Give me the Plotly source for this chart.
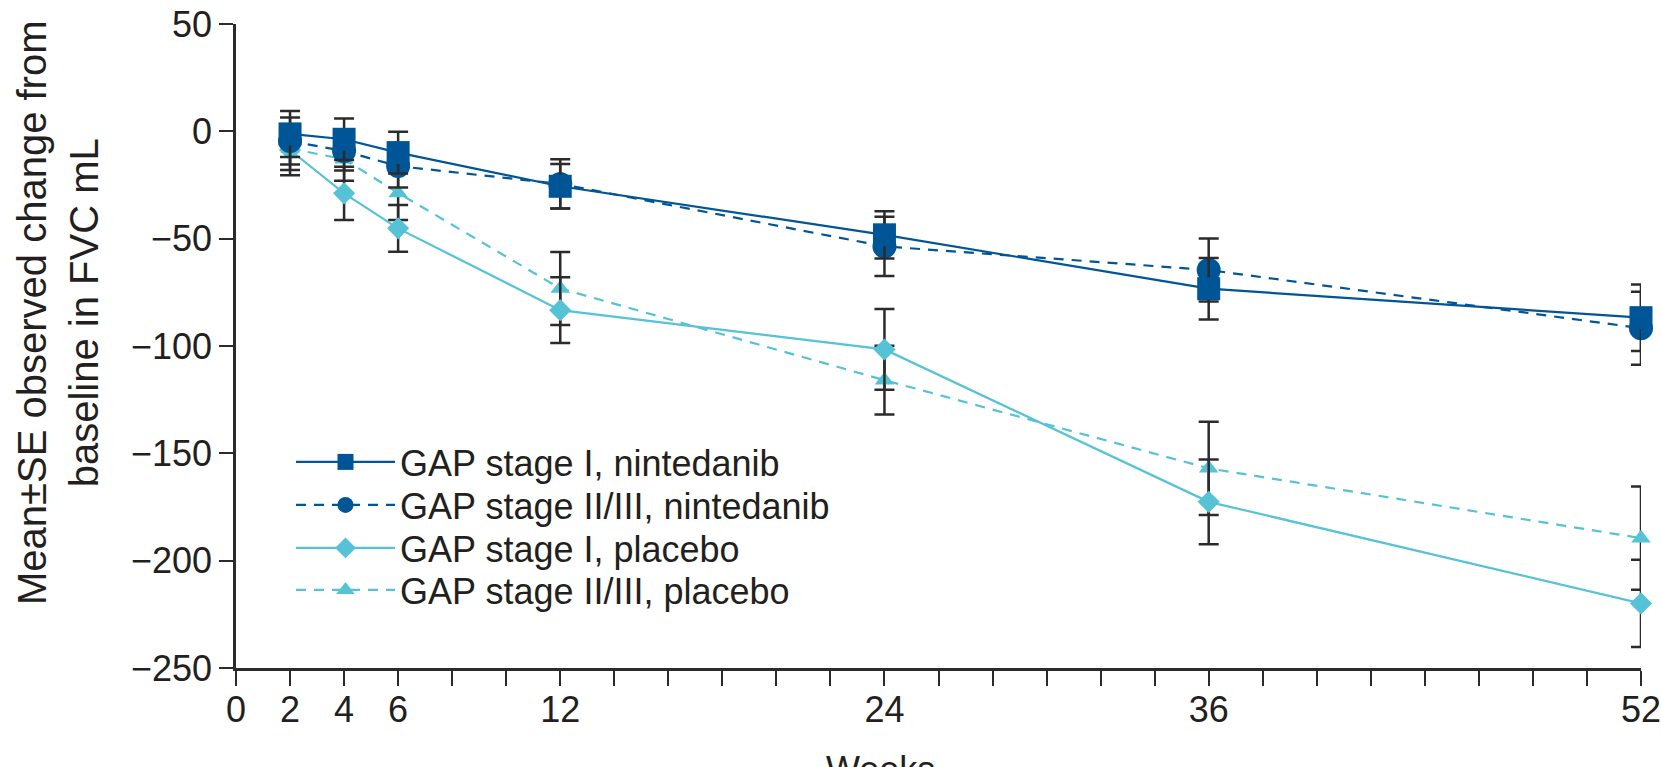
import plotly.graph_objects as go

weeks = [2, 4, 6, 12, 24, 36, 52]

names = ["GAP stage I, nintedanib", "GAP stage II/III, nintedanib",
         "GAP stage I, placebo", "GAP stage II/III, placebo"]

nin_stage1 = [-1.2, -3.7, -9.9, -25.6, -48.2, -73.3, -86.8]
nin_stage1_se = [10.7, 9.7, 9.7, 10.4, 11.0, 14.3, 15.5]

nin_stage23 = [-4.5, -9.2, -16.2, -24.5, -53.6, -64.6, -91.7]
nin_stage23_se = [11.0, 9.1, 10.0, 11.5, 13.8, 14.7, 17.0]

pla_stage1 = [-8.7, -28.9, -45.2, -83.3, -101.6, -172.6, -219.9]
pla_stage1_se = [11.7, 12.4, 10.9, 15.3, 18.8, 19.7, 20.3]

pla_stage23 = [-8.0, -13.0, -28.7, -73.2, -115.9, -157.0, -189.5]
pla_stage23_se = [10.0, 10.0, 12.6, 17.0, 16.0, 21.7, 24.0]

x_tickvals = list(range(0, 53, 2))
x_labels = {0: "0", 2: "2", 4: "4", 6: "6", 12: "12", 24: "24", 36: "36", 52: "52"}
x_ticktext = [x_labels.get(v, "") for v in x_tickvals]
y_tickvals = [50, 0, -50, -100, -150, -200, -250]
y_ticktext = ["50", "0", "−50", "−100", "−150", "−200", "−250"]

DARK = "#005596"
LIGHT = "#55C3D5"
BAR = "#2b2b2b"
TXT = "#231f20"
FONT = "Liberation Sans, Arial, sans-serif"

# plot area in pixels (used only for paper-coordinate placement of texts/legends)
L, R, T, B = 236, 1641, 24, 668
PW, PH = R - L, B - T


def px_x(p):
    return (p - L) / PW


def px_y(p):
    return (B - p) / PH


series = [
    # drawn in this order (last on top)
    dict(y=pla_stage23, se=pla_stage23_se, name=names[3], color=LIGHT, dash="10px,8px",
         symbol="triangle-up", size=17, legend="legend4", row=590),
    dict(y=pla_stage1, se=pla_stage1_se, name=names[2], color=LIGHT, dash="solid",
         symbol="diamond", size=17, legend="legend3", row=548),
    dict(y=nin_stage23, se=nin_stage23_se, name=names[1], color=DARK, dash="10px,8px",
         symbol="circle", size=24, legend="legend2", row=505),
    dict(y=nin_stage1, se=nin_stage1_se, name=names[0], color=DARK, dash="solid",
         symbol="square", size=23, legend="legend", row=462),
]

fig = go.Figure()
for s in series:
    fig.add_trace(go.Scatter(
        x=weeks, y=s["y"], name=s["name"], mode="lines+markers",
        line=dict(color=s["color"], width=2.2, dash=s["dash"]),
        marker=dict(symbol=s["symbol"], size=s["size"], color=s["color"], line=dict(width=0)),
        error_y=dict(type="data", array=s["se"], visible=True, color=BAR, thickness=2.5, width=10),
        legend=s["legend"], cliponaxis=False,
    ))

legend_common = dict(xanchor="left", yanchor="middle", bgcolor="rgba(0,0,0,0)",
                     font=dict(size=36, color=TXT, family=FONT), itemwidth=99)
legends = {}
for s in series:
    legends[s["legend"]] = dict(x=px_x(291), y=px_y(s["row"]), **legend_common)

fig.update_layout(
    width=1661, height=767,
    margin=dict(l=L, r=1661 - R, t=T, b=767 - B, autoexpand=False),
    paper_bgcolor="white", plot_bgcolor="white",
    font=dict(family=FONT, size=36, color=TXT),
    showlegend=True,
    **legends,
    xaxis=dict(range=[0, 52], tickvals=x_tickvals, ticktext=x_ticktext,
               showgrid=False, zeroline=False, showline=True, linecolor=BAR, linewidth=2.5,
               ticks="outside", ticklen=15, tickwidth=2, tickcolor=BAR,
               ticklabeloverflow="allow", ticklabelstandoff=-7,
               tickfont=dict(size=36, color=TXT, family=FONT)),
    yaxis=dict(range=[-250, 50], tickvals=y_tickvals, ticktext=y_ticktext,
               showgrid=False, zeroline=False, showline=True, linecolor=BAR, linewidth=2.5,
               ticks="outside", ticklen=14, tickwidth=2, tickcolor=BAR,
               tickfont=dict(size=36, color=TXT, family=FONT)),
    annotations=[
        dict(text="Mean±SE observed change from<br>baseline in FVC mL", textangle=-90,
             xref="paper", yref="paper", x=px_x(58), y=px_y(313),
             xanchor="center", yanchor="middle", showarrow=False,
             font=dict(size=40, color=TXT, family=FONT)),
        dict(text="Weeks", xref="paper", yref="paper", x=px_x(880), y=px_y(747),
             xanchor="center", yanchor="top", showarrow=False,
             font=dict(size=36, color=TXT, family=FONT)),
    ],
)

fig.write_html("out.html")
